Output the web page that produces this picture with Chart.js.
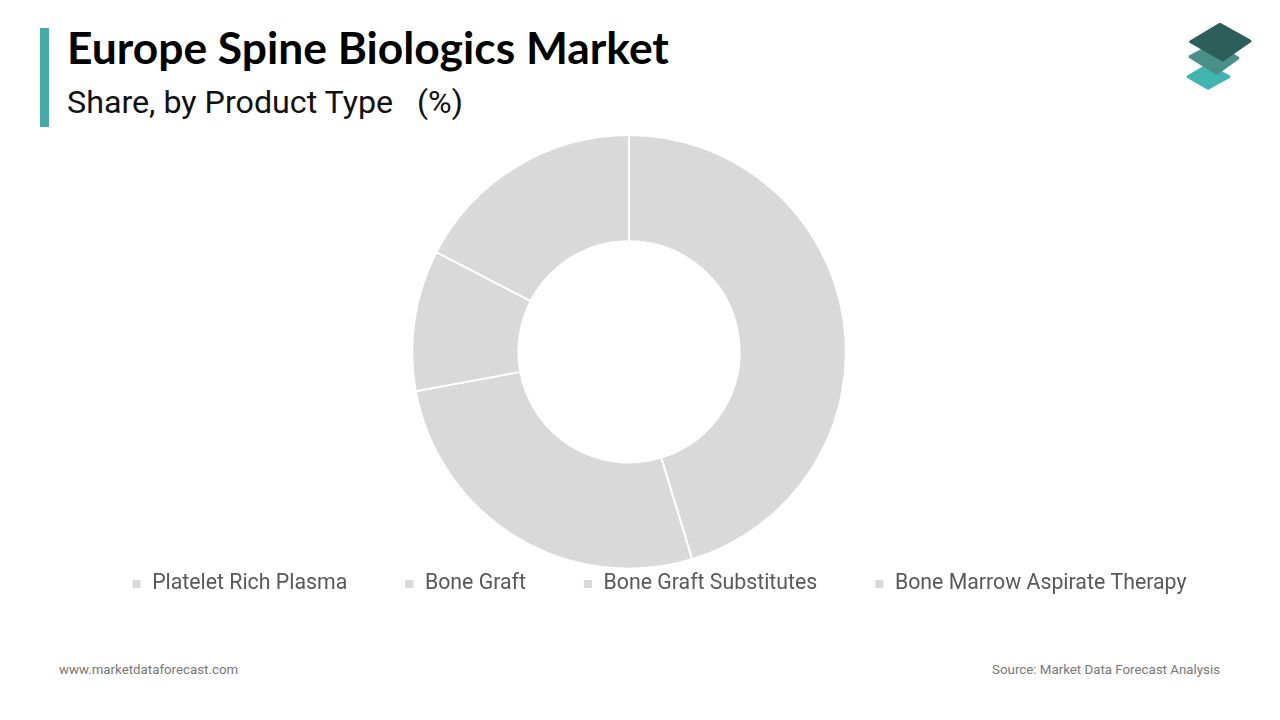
<!DOCTYPE html>
<html>
<head>
<meta charset="utf-8">
<script src="https://cdn.jsdelivr.net/npm/chart.js@4"></script>
<style>
  html, body { margin: 0; padding: 0; background: #ffffff; }
  body { width: 1280px; height: 720px; position: relative; overflow: hidden; }
  .bar { position: absolute; left: 40px; top: 28px; width: 9px; height: 99px; background: #46aaa7; }
  #title { position: absolute; left: 67px; top: 20px; font-family: Lato, sans-serif; font-weight: 700; font-size: 42px; color: #000; white-space: nowrap; line-height: 1.2; }
  #subtitle { position: absolute; left: 67px; top: 83px; font-family: Roboto, sans-serif; font-size: 29px; color: #111; white-space: pre; line-height: 1.2; }
  .foot { position: absolute; top: 662px; font-family: Roboto, sans-serif; font-size: 13.3px; color: #777; white-space: nowrap; }
  #chartwrap { position: absolute; left: 0; top: 134px; width: 1258px; height: 524px; }
  svg.logo { position: absolute; left: 1180px; top: 18px; }
</style>
</head>
<body>
<div class="bar"></div>
<div id="title">Europe Spine Biologics Market</div>
<div id="subtitle">Share, by Product Type   (%)</div>
<svg class="logo" width="80" height="80" viewBox="1180 18 80 80">
  <path d="M1188 76.7 L1208 65 L1229 76.7 L1208 88.3 Z" fill="#40b4ae" stroke="#40b4ae" stroke-width="3" stroke-linejoin="round"/>
  <path d="M1190 56.7 L1214 44 L1238 58 L1216.7 73.3 Z" fill="#4b8f89" stroke="#4b8f89" stroke-width="3" stroke-linejoin="round"/>
  <path d="M1190.7 41.7 L1220 24.3 L1250 41 L1222.7 60 Z" fill="#2c5f5a" stroke="#2c5f5a" stroke-width="3" stroke-linejoin="round"/>
</svg>
<div id="chartwrap"><canvas id="c"></canvas></div>
<div class="foot" style="left:59px;">www.marketdataforecast.com</div>
<div class="foot" style="right:60px;">Source: Market Data Forecast Analysis</div>
<script>
const categories = ["Platelet Rich Plasma", "Bone Graft", "Bone Graft Substitutes", "Bone Marrow Aspirate Therapy"];
const shareValues = [45.3, 26.8, 10.5, 17.4];
const sliceColors = ["#d9d9d9", "#d9d9d9", "#d9d9d9", "#d9d9d9"];

function fitWidth(el, target) {
  const w = el.getBoundingClientRect().width;
  const fs = parseFloat(getComputedStyle(el).fontSize);
  el.style.fontSize = (fs * target / w) + "px";
}
fitWidth(document.getElementById('title'), 602);
fitWidth(document.getElementById('subtitle'), 396);

const CANVAS_TOP = 134;
const LEGEND_FONT = 21.3;
const legendShift = {
  id: 'legendShift',
  afterLayout(chart) {
    const lg = chart.legend;
    if (!lg) return;
    const pad = lg.options.labels.padding;
    const itemH = LEGEND_FONT;
    const desiredCenter = 584 - CANVAS_TOP;
    const curCenter = lg.top + pad + itemH / 2;
    const dy = desiredCenter - curCenter;
    lg.top += dy; lg.bottom += dy;
    lg.left += 30; lg.right += 30;
  }
};

new Chart(document.getElementById('c'), {
  type: 'doughnut',
  data: {
    labels: categories,
    datasets: [{
      data: shareValues,
      backgroundColor: sliceColors,
      borderColor: '#ffffff',
      borderWidth: 2,
      hoverOffset: 0
    }]
  },
  options: {
    responsive: true,
    maintainAspectRatio: false,
    animation: false,
    cutout: '51%',
    layout: { padding: 0 },
    plugins: {
      legend: {
        position: 'bottom',
        labels: {
          boxWidth: 10,
          boxHeight: 10,
          padding: 57,
          color: '#595959',
          font: { family: 'Roboto', size: LEGEND_FONT }
        }
      },
      tooltip: { enabled: false }
    }
  },
  plugins: [legendShift]
});
</script>
</body>
</html>
